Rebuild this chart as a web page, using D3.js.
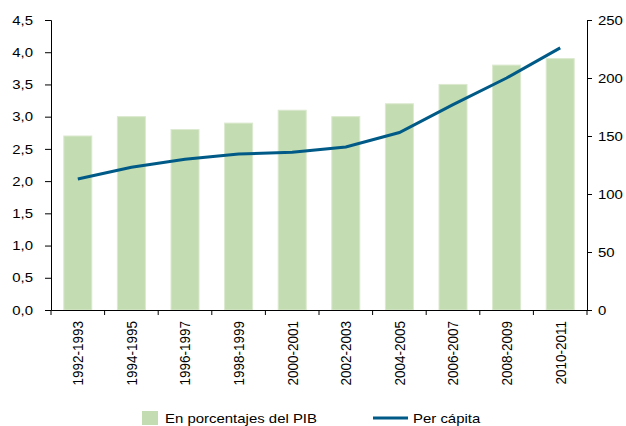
<!DOCTYPE html>
<html>
<head>
<meta charset="utf-8">
<script src="https://cdn.jsdelivr.net/npm/d3@7"></script>
<style>
  body { margin: 0; background: #fff; }
  text { font-family: "Liberation Sans", Arial, sans-serif; fill: #000; }
</style>
</head>
<body>
<div id="chart"></div>
<script>
var periods = ["1992-1993", "1994-1995", "1996-1997", "1998-1999", "2000-2001",
               "2002-2003", "2004-2005", "2006-2007", "2008-2009", "2010-2011"];
var pctPIB = [2.7, 3.0, 2.8, 2.9, 3.1, 3.0, 3.2, 3.5, 3.8, 3.9];
var perCapita = [113, 123, 130, 134.5, 136, 140.5, 153, 177, 200, 226];
var leftTicks = [0, 0.5, 1, 1.5, 2, 2.5, 3, 3.5, 4, 4.5];
var rightTicks = [0, 50, 100, 150, 200, 250];

var W = 626, H = 426;
var margin = { top: 20, right: 39, bottom: 116, left: 51 },
    width = W - margin.left - margin.right,
    height = H - margin.top - margin.bottom;
var SX = 1.15; // text in the original is a bit wider than tall

var xb = d3.scaleBand().domain(periods).range([0, width]);
var yL = d3.scaleLinear().domain([0, 4.5]).range([height, 0]);
var yR = d3.scaleLinear().domain([0, 250]).range([height, 0]);

var svg = d3.select("#chart").append("svg")
  .attr("width", W).attr("height", H)
  .append("g")
  .attr("transform", "translate(" + margin.left + "," + margin.top + ")");

// bars
svg.selectAll(".bar")
  .data(periods)
  .enter().append("rect")
  .attr("class", "bar")
  .attr("x", function (d) { return xb(d) + (xb.bandwidth() - 28) / 2; })
  .attr("width", 28)
  .attr("y", function (d, i) { return yL(pctPIB[i]); })
  .attr("height", function (d, i) { return height - yL(pctPIB[i]); })
  .attr("fill", "#c4dcb1")
  .attr("stroke", "#dbe9cf")
  .attr("stroke-width", 1);

// line
var line = d3.line()
  .x(function (d, i) { return xb(periods[i]) + xb.bandwidth() / 2; })
  .y(function (d) { return yR(d); });

svg.append("path")
  .datum(perCapita)
  .attr("d", line)
  .attr("fill", "none")
  .attr("stroke", "#005a87")
  .attr("stroke-width", 3);

function stretch(sel) {
  sel.each(function () {
    var t = d3.select(this), xx = +t.attr("x") || 0;
    t.attr("x", 0).attr("transform", "translate(" + xx + ",0) scale(" + SX + ",1)");
  });
}

// left axis
var gl = svg.append("g")
  .call(d3.axisLeft(yL).tickValues(leftTicks).tickSize(6).tickPadding(12)
    .tickFormat(function (d) { return d3.format(".1f")(d).replace(".", ","); }));

// right axis
var gr = svg.append("g")
  .attr("transform", "translate(" + width + ",0)")
  .call(d3.axisRight(yR).tickValues(rightTicks).tickSize(5).tickPadding(6));

// bottom axis, ticks at category boundaries
var gx = svg.append("g")
  .attr("transform", "translate(0," + height + ")")
  .call(d3.axisBottom(xb).tickSize(0));
gx.selectAll(".tick text")
  .attr("transform", "scale(" + SX + ",1) rotate(-90)")
  .attr("text-anchor", "end")
  .attr("x", -11)
  .attr("y", 0)
  .attr("dy", "0.35em");
gx.selectAll(".bound")
  .data(d3.range(periods.length + 1))
  .enter().append("line")
  .attr("class", "bound")
  .attr("x1", function (i) { return i * xb.step(); })
  .attr("x2", function (i) { return i * xb.step(); })
  .attr("y1", 0).attr("y2", 5)
  .attr("stroke", "#000");

[gl, gr, gx].forEach(function (g) {
  g.selectAll("text").style("font-size", "13px").attr("fill", "#000");
  g.select(".domain").attr("stroke", "#000");
  g.selectAll(".tick line").attr("stroke", "#000");
});
gx.selectAll(".tick text").style("font-size", "13.5px");
stretch(gl.selectAll(".tick text"));
stretch(gr.selectAll(".tick text"));

// legend
var leg = d3.select("svg").append("g");
leg.append("rect").attr("x", 142).attr("y", 411).attr("width", 16).attr("height", 14).attr("fill", "#c4dcb1");
leg.append("text").attr("x", 165).attr("y", 423).style("font-size", "13px").text("En porcentajes del PIB");
leg.append("line").attr("x1", 373).attr("x2", 408).attr("y1", 418).attr("y2", 418)
  .attr("stroke", "#005a87").attr("stroke-width", 3);
leg.append("text").attr("x", 413).attr("y", 423).style("font-size", "13px").text("Per cápita");
stretch(leg.selectAll("text"));
</script>
</body>
</html>
